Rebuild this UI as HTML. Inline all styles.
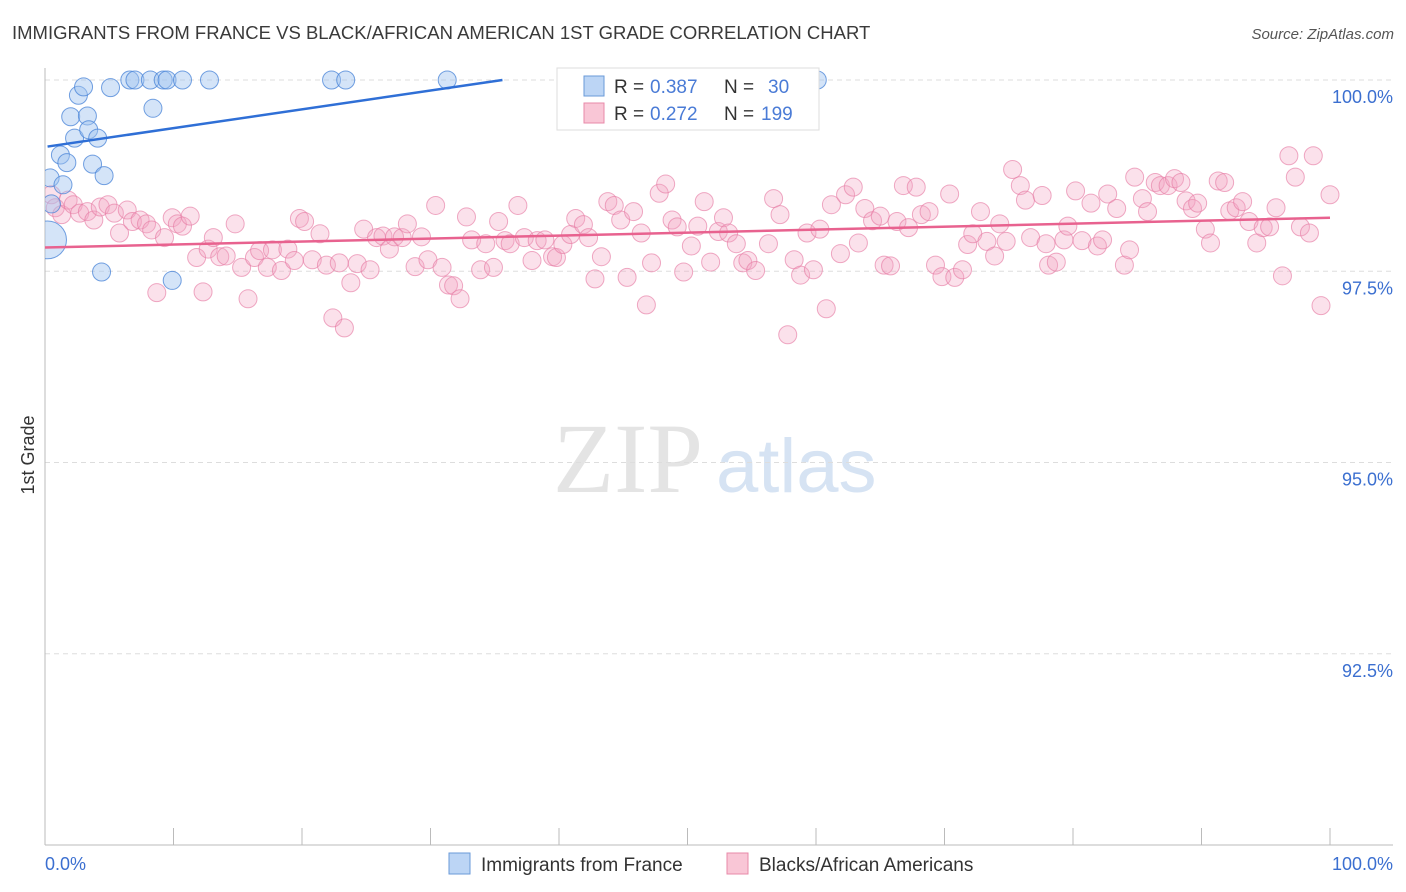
<!DOCTYPE html>
<html><head><meta charset="utf-8"><style>
body{margin:0;background:#fff;width:1406px;height:892px;overflow:hidden;font-family:"Liberation Sans",sans-serif}
svg{display:block}
</style></head><body>
<svg id="chart" width="1406" height="892" xmlns="http://www.w3.org/2000/svg">
<defs><clipPath id="plotclip"><rect x="45" y="60" width="1360" height="785"/></clipPath></defs>
<text x="12" y="39" font-size="18.5" fill="#3a3a3a">IMMIGRANTS FROM FRANCE VS BLACK/AFRICAN AMERICAN 1ST GRADE CORRELATION CHART</text>
<text x="1394" y="39" font-size="15" fill="#555" text-anchor="end" font-style="italic">Source: ZipAtlas.com</text>
<text x="0" y="0" font-size="18" fill="#333" transform="translate(34,455) rotate(-90)" text-anchor="middle">1st Grade</text>
<g>
<text x="553" y="492" font-size="100" font-family="Liberation Serif,serif" fill="#e4e4e4">ZIP</text>
<text x="716" y="492" font-size="76" fill="#d6e3f3">atlas</text>
</g>
<g id="grid"></g>
<g id="axes"></g>
<g id="marks" clip-path="url(#plotclip)"></g>
<g>
<rect x="557" y="68" width="262" height="62" fill="#fff" stroke="#ddd"/>
<rect x="584" y="76" width="20" height="20" fill="#bcd5f5" stroke="#6a9ad8"/>
<rect x="584" y="103" width="20" height="20" fill="#f9c6d6" stroke="#e889a8"/>
<text x="614" y="93" font-size="19" fill="#333">R =</text>
<text x="650" y="93" font-size="19" fill="#4a7bd6">0.387</text>
<text x="724" y="93" font-size="19" fill="#333">N =</text>
<text x="768" y="93" font-size="19" fill="#4a7bd6">30</text>
<text x="614" y="120" font-size="19" fill="#333">R =</text>
<text x="650" y="120" font-size="19" fill="#4a7bd6">0.272</text>
<text x="724" y="120" font-size="19" fill="#333">N =</text>
<text x="761" y="120" font-size="19" fill="#4a7bd6">199</text>
</g>
<g>
<rect x="449" y="853" width="21" height="21" fill="#bcd5f5" stroke="#6a9ad8"/>
<text x="481" y="871" font-size="19" fill="#333">Immigrants from France</text>
<rect x="727" y="853" width="21" height="21" fill="#f9c6d6" stroke="#e889a8"/>
<text x="759" y="871" font-size="19" fill="#333">Blacks/African Americans</text>
</g>
</svg>
<script>
const yTicks=[100,97.5,95,92.5];
const yTickLabels=["100.0%","97.5%","95.0%","92.5%"];
const xEndLabels=["0.0%","100.0%"];
const blueX=[0.2,0.4,0.5,1.2,1.4,1.7,2.0,2.3,2.6,3.0,3.3,3.4,3.7,4.1,4.6,4.4,5.1,6.6,7.0,8.2,8.4,9.2,9.5,10.7,12.8,9.9,22.3,23.4,31.3,60.1];
const blueY=[97.91,98.72,98.38,99.02,98.63,98.92,99.52,99.24,99.80,99.91,99.53,99.35,98.90,99.24,98.75,97.49,99.90,100,100,100,99.63,100,100,100,100,97.38,100,100,100,100];
const blueSize=[2.1,1,1,1,1,1,1,1,1,1,1,1,1,1,1,1,1,1,1,1,1,1,1,1,1,1,1,1,1,1];
const pinkX=[0.5,0.8,1.3,1.8,2.2,2.7,3.3,3.8,4.3,4.9,5.4,5.8,6.4,6.8,7.4,7.9,8.3,8.7,9.3,9.9,10.3,10.7,11.3,11.8,12.3,12.7,13.1,13.6,14.1,14.8,15.3,15.8,16.3,16.7,17.3,17.7,18.4,18.9,19.4,19.8,20.2,20.8,21.4,21.9,22.4,22.9,23.3,23.8,24.3,24.8,25.3,25.8,26.3,26.8,27.2,27.8,28.2,28.8,29.3,29.8,30.4,30.9,31.4,31.8,32.3,32.8,33.2,33.9,34.3,34.9,35.3,35.8,36.2,36.8,37.3,37.9,38.3,38.9,39.5,39.8,40.3,40.9,41.3,41.9,42.3,42.8,43.3,43.8,44.3,44.8,45.3,45.8,46.4,46.8,47.2,47.8,48.3,48.8,49.2,49.7,50.3,50.8,51.3,51.8,52.4,52.8,53.2,53.8,54.3,54.7,55.3,56.3,56.7,57.2,57.8,58.3,58.8,59.3,59.8,60.3,60.8,61.2,61.9,62.3,62.9,63.3,63.8,64.4,65.0,65.3,65.8,66.3,66.8,67.2,67.8,68.2,68.8,69.3,69.8,70.4,70.8,71.4,71.8,72.2,72.8,73.3,73.9,74.3,74.8,75.3,75.9,76.3,76.7,77.6,77.9,78.1,78.7,79.3,79.6,80.2,80.7,81.4,81.9,82.3,82.7,83.4,84.0,84.4,84.8,85.4,85.8,86.4,86.8,87.4,87.9,88.4,88.8,89.3,89.7,90.3,90.7,91.3,91.8,92.2,92.7,93.2,93.7,94.3,94.8,95.3,95.8,96.3,96.8,97.3,97.7,98.4,98.7,99.3,100];
const pinkY=[98.50,98.33,98.24,98.43,98.37,98.26,98.28,98.17,98.34,98.37,98.26,98.00,98.30,98.15,98.17,98.12,98.04,97.22,97.94,98.20,98.12,98.09,98.22,97.68,97.23,97.79,97.94,97.69,97.70,98.12,97.55,97.14,97.68,97.77,97.55,97.78,97.51,97.79,97.64,98.19,98.15,97.65,97.99,97.58,96.89,97.61,96.76,97.35,97.60,98.05,97.52,97.94,97.96,97.79,97.95,97.94,98.12,97.56,97.95,97.65,98.36,97.55,97.32,97.31,97.14,98.21,97.91,97.52,97.86,97.55,98.15,97.90,97.86,98.36,97.94,97.64,97.90,97.91,97.69,97.68,97.85,97.98,98.19,98.11,97.94,97.40,97.69,98.41,98.36,98.17,97.42,98.28,98.00,97.06,97.61,98.52,98.64,98.17,98.08,97.49,97.83,98.09,98.41,97.62,98.02,98.20,98.00,97.86,97.61,97.64,97.51,97.86,98.45,98.24,96.67,97.65,97.45,98.00,97.52,98.05,97.01,98.37,97.73,98.50,98.60,97.87,98.32,98.16,98.22,97.58,97.57,98.15,98.62,98.07,98.60,98.24,98.28,97.58,97.43,98.51,97.42,97.52,97.85,97.99,98.28,97.89,97.70,98.12,97.89,98.83,98.62,98.43,97.94,98.49,97.86,97.58,97.62,97.91,98.09,98.55,97.90,98.39,97.83,97.91,98.51,98.32,97.58,97.78,98.73,98.45,98.28,98.66,98.62,98.62,98.71,98.66,98.42,98.32,98.39,98.05,97.87,98.68,98.66,98.29,98.33,98.41,98.15,97.87,98.07,98.08,98.33,97.44,99.01,98.73,98.08,98.00,99.01,97.05,98.50];
const blueTrend=[99.125,0.02458];
const pinkTrend=[97.81,0.0039];
const NS="http://www.w3.org/2000/svg";
const L=45,R=1330,T=80,B=845;
function xs(v){return L+(R-L)*v/100;}
function ys(v){return B-(B-T)*(v-90)/10;}
function mk(tag,attrs,parent){const e=document.createElementNS(NS,tag);for(const k in attrs)e.setAttribute(k,attrs[k]);parent.appendChild(e);return e;}
const grid=document.getElementById('grid'),axes=document.getElementById('axes'),marks=document.getElementById('marks');
yTicks.forEach((t,i)=>{
  const g=mk('line',{x1:L,x2:1393,y1:ys(t),y2:ys(t),stroke:'#ddd','stroke-dasharray':'5,4'},grid);
  
  
  const tx=mk('text',{x:1393,y:ys(t)+23,'font-size':18,fill:'#3b6fd0','text-anchor':'end'},axes);
  tx.textContent=yTickLabels[i];
  
  
});
let a=mk('line',{x1:L,x2:L,y1:68,y2:B,stroke:'#bbb'},axes);


a=mk('line',{x1:L,x2:1393,y1:B,y2:B,stroke:'#bbb'},axes);


for(let i=0;i<=10;i++){
  const t=mk('line',{x1:xs(i*10),x2:xs(i*10),y1:B,y2:B-17,stroke:'#bbb'},axes);
  
  
}
let xl=mk('text',{x:45,y:870,'font-size':18,fill:'#3b6fd0'},axes);xl.textContent=xEndLabels[0];


xl=mk('text',{x:1393,y:870,'font-size':18,fill:'#3b6fd0','text-anchor':'end'},axes);xl.textContent=xEndLabels[1];


pinkX.forEach((x,i)=>{
  const c=mk('circle',{cx:xs(x),cy:ys(pinkY[i]),r:9,fill:'rgba(244,165,195,0.33)',stroke:'rgba(230,125,165,0.65)','stroke-width':1},marks);
  
  
});
blueX.forEach((x,i)=>{
  const c=mk('circle',{cx:xs(x),cy:ys(blueY[i]),r:9*blueSize[i],fill:'rgba(160,195,240,0.45)',stroke:'rgba(70,130,215,0.75)','stroke-width':1},marks);
  
  
});
let xEnd=Math.min(100,(100-blueTrend[0])/blueTrend[1]);
let tl=mk('line',{x1:xs(0.2),y1:ys(blueTrend[0]+blueTrend[1]*0.2),x2:xs(xEnd),y2:ys(blueTrend[0]+blueTrend[1]*xEnd),stroke:'#2f6fd6','stroke-width':2.5},marks);


tl=mk('line',{x1:xs(0),y1:ys(pinkTrend[0]),x2:xs(100),y2:ys(pinkTrend[0]+pinkTrend[1]*100),stroke:'#e8628f','stroke-width':2.5},marks);


</script>
</body></html>
